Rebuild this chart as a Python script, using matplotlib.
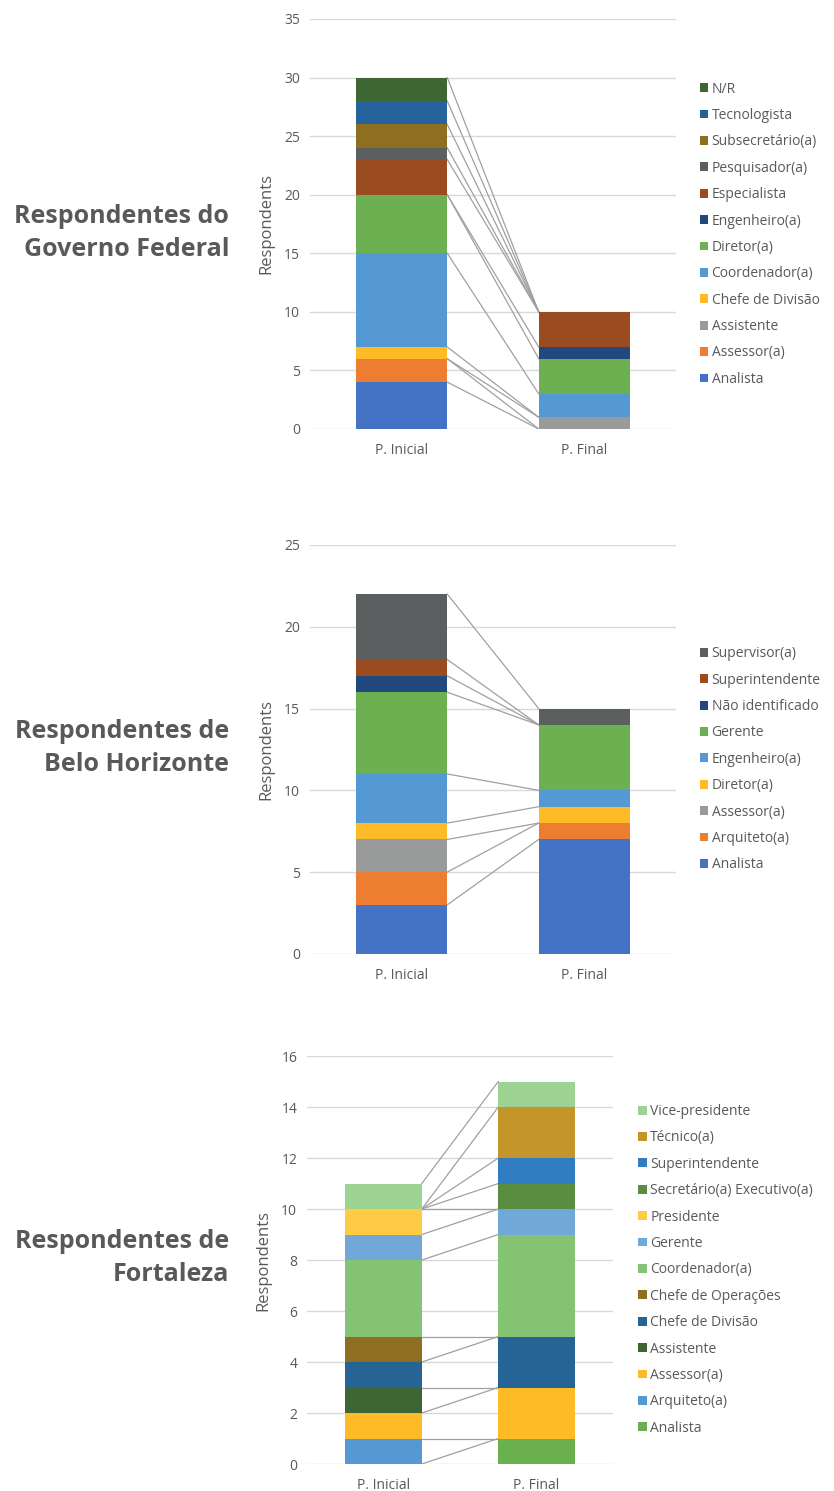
import matplotlib.pyplot as plt
import numpy as np
from matplotlib.patches import Patch

plt.rcParams['font.family'] = ['Open Sans', 'DejaVu Sans']

periods = ['P. Inicial', 'P. Final']

# Governo Federal
gf_roles = ['Analista', 'Assessor(a)', 'Assistente', 'Chefe de Divisão', 'Coordenador(a)',
            'Diretor(a)', 'Engenheiro(a)', 'Especialista', 'Pesquisador(a)',
            'Subsecretário(a)', 'Tecnologista', 'N/R']
gf_inicial = [4, 2, 0, 1, 8, 5, 0, 3, 1, 2, 2, 2]
gf_final = [0, 0, 1, 0, 2, 3, 1, 3, 0, 0, 0, 0]
gf_colors = ['#4472C4', '#ED7D31', '#999B9B', '#FDBB27', '#5499D3', '#6CB052',
             '#22497E', '#9A4C20', '#5C5F5F', '#8E6F22', '#25649A', '#3E6633']

# Belo Horizonte
bh_roles = ['Analista', 'Arquiteto(a)', 'Assessor(a)', 'Diretor(a)', 'Engenheiro(a)',
            'Gerente', 'Não identificado', 'Superintendente', 'Supervisor(a)']
bh_inicial = [3, 2, 2, 1, 3, 5, 1, 1, 4]
bh_final = [7, 1, 0, 1, 1, 4, 0, 0, 1]
bh_colors = ['#4472C4', '#ED7D31', '#999B9B', '#FDBB27', '#5499D3', '#6CB052',
             '#22497E', '#9A4C20', '#5C5F5F']

# Fortaleza
fo_roles = ['Analista', 'Arquiteto(a)', 'Assessor(a)', 'Assistente', 'Chefe de Divisão',
            'Chefe de Operações', 'Coordenador(a)', 'Gerente', 'Presidente',
            'Secretário(a) Executivo(a)', 'Superintendente', 'Técnico(a)', 'Vice-presidente']
fo_inicial = [0, 1, 1, 1, 1, 1, 3, 1, 1, 0, 0, 0, 1]
fo_final = [1, 0, 2, 0, 2, 0, 4, 1, 0, 1, 1, 2, 1]
fo_colors = ['#6AB04F', '#5499D3', '#FDBB27', '#3E6633', '#256495', '#8E6F22',
             '#83C373', '#70A9D8', '#FFCB45', '#5A8C41', '#327DC2', '#C49528', '#9DD293']

# title, roles, values, colours, ymax, tick step, axes rect, title y, legend x, legend y
panels = [
    ('Respondentes do\nGoverno Federal', gf_roles, gf_inicial, gf_final, gf_colors, 35, 5,
     [0.3717, 0.7123, 0.4388, 0.275], 0.8437, 1.05, 0.475),
    ('Respondentes de\nBelo Horizonte', bh_roles, bh_inicial, bh_final, bh_colors, 25, 5,
     [0.3717, 0.3602, 0.4388, 0.2743], 0.4983, 1.05, 0.476),
    ('Respondentes de\nFortaleza', fo_roles, fo_inicial, fo_final, fo_colors, 16, 2,
     [0.3681, 0.0181, 0.3669, 0.2736], 0.1563, 1.065, 0.476),
]

text_color = '#595959'
width = 0.5

fig = plt.figure(figsize=(8.34, 14.91), dpi=100)

for title, roles, ini, fin, colors, ymax, step, rect, ty, lx, ly in panels:
    ax = fig.add_axes(rect)
    x = np.arange(len(periods))
    bottom = np.zeros(2)
    handles = []
    for role, a, b, c in zip(roles, ini, fin, colors):
        vals = np.array([a, b], dtype=float)
        ax.bar(x, vals, width, bottom=bottom, color=c, edgecolor='none', zorder=3)
        top = bottom + vals
        # series line joining the top of each segment
        ax.plot([x[0] + width / 2, x[1] - width / 2], top, color='#A0A0A0', lw=0.9, zorder=2)
        bottom = top
        handles.append(Patch(facecolor=c, edgecolor='none', label=role))

    ax.set_xlim(-0.5, 1.5)
    ax.set_ylim(0, ymax)
    ax.set_yticks(np.arange(0, ymax + 1, step))
    ax.set_xticks(x)
    ax.set_xticklabels(periods)
    ax.yaxis.grid(True, color='#D9D9D9', lw=1, zorder=0)
    for s in ax.spines.values():
        s.set_visible(False)
    ax.tick_params(length=0, labelsize=10, labelcolor=text_color)
    ax.tick_params(axis='y', pad=7)
    ax.tick_params(axis='x', pad=10)
    ax.set_ylabel('Respondents', fontsize=12, color=text_color, labelpad=7)

    ax.legend(handles=handles[::-1], loc='center left', bbox_to_anchor=(lx, ly),
              frameon=False, fontsize=10, labelcolor=text_color,
              handlelength=0.6, handleheight=0.6, handletextpad=0.25,
              labelspacing=0.82, borderaxespad=0)

    fig.text(0.275, ty, title, ha='right', va='center', fontsize=18, fontweight='bold',
             color=text_color, linespacing=1.42)

fig.savefig('out.png', dpi=100)
